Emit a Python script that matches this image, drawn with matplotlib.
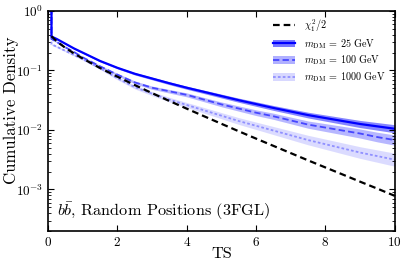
import numpy as np
import matplotlib
matplotlib.use("Agg")
import matplotlib.pyplot as plt
from matplotlib.patches import Patch
from matplotlib.lines import Line2D

plt.rcParams['font.family'] = 'serif'
plt.rcParams['font.serif'] = ['cmr10', 'DejaVu Serif']
plt.rcParams['mathtext.fontset'] = 'cm'
plt.rcParams['axes.formatter.use_mathtext'] = True

# TS grid (first two points show the initial drop from 1)
ts = [0.0, 0.1, 0.1, 0.25, 0.5, 0.75, 1.0, 1.5, 2.0, 2.5, 3.0, 3.5, 4.0, 4.5,
      5.0, 5.5, 6.0, 6.5, 7.0, 7.5, 8.0, 8.5, 9.0, 9.5, 10.0]

# log10 cumulative density
log_m25 = [0.0, 0.0, -0.43, -0.47, -0.55, -0.63, -0.70, -0.84, -0.955, -1.055, -1.135,
           -1.215, -1.29, -1.36, -1.43, -1.50, -1.565, -1.63, -1.69, -1.75, -1.80,
           -1.85, -1.90, -1.94, -1.98]
log_m100 = [0.0, 0.0, -0.47, -0.52, -0.61, -0.69, -0.78, -0.93, -1.07, -1.20, -1.29,
            -1.35, -1.41, -1.49, -1.57, -1.64, -1.71, -1.77, -1.84, -1.91, -1.96,
            -2.01, -2.06, -2.12, -2.17]
log_m1000 = [0.0, 0.0, -0.56, -0.60, -0.67, -0.74, -0.81, -0.96, -1.13, -1.28, -1.39,
             -1.49, -1.58, -1.67, -1.76, -1.85, -1.93, -2.01, -2.09, -2.17, -2.24,
             -2.31, -2.38, -2.44, -2.50]

# band half-widths (dex)
err_m25 = [0.0, 0.0, 0.01, 0.01, 0.01, 0.012, 0.013, 0.015, 0.017, 0.02, 0.022, 0.024,
           0.026, 0.029, 0.032, 0.035, 0.038, 0.041, 0.044, 0.048, 0.052, 0.056,
           0.06, 0.064, 0.068]
err_m100 = [0.0, 0.0, 0.012, 0.012, 0.013, 0.014, 0.015, 0.018, 0.021, 0.024, 0.027,
            0.03, 0.033, 0.036, 0.04, 0.044, 0.048, 0.052, 0.056, 0.061, 0.066,
            0.071, 0.076, 0.081, 0.086]
err_m1000 = [0.0, 0.0, 0.013, 0.014, 0.015, 0.016, 0.018, 0.022, 0.026, 0.03, 0.034,
             0.038, 0.042, 0.047, 0.052, 0.057, 0.062, 0.068, 0.074, 0.08, 0.086,
             0.092, 0.098, 0.104, 0.11]

# chi^2_1 / 2 reference curve values
ts_chi = [0.1, 0.25, 0.5, 0.75, 1.0, 1.5, 2.0, 2.5, 3.0, 3.5, 4.0, 4.5, 5.0, 5.5,
          6.0, 6.5, 7.0, 7.5, 8.0, 8.5, 9.0, 9.5, 10.0]
chi_half = [0.376, 0.309, 0.240, 0.193, 0.159, 0.110, 0.0787, 0.0569, 0.0416, 0.0307,
            0.0228, 0.0170, 0.0127, 0.0095, 0.00715, 0.0054, 0.00408, 0.00308,
            0.00234, 0.00178, 0.00135, 0.00103, 0.00078]

labels = [r'$m_{\rm DM}$ = 25 GeV', r'$m_{\rm DM}$ = 100 GeV', r'$m_{\rm DM}$ = 1000 GeV']
leg_labels = [r'$\chi^2_1/2$'] + labels
annot = r'$b\bar{b}$, Random Positions (3FGL)'

fig = plt.figure(figsize=(4.07, 2.68), dpi=100)
ax = fig.add_axes([0.118, 0.138, 0.852, 0.821])
renderer = fig.canvas.get_renderer()


def fit_size(text, target, base=10.0):
    t = fig.text(0, 0, text, fontsize=base)
    bb = t.get_window_extent(renderer)
    t.remove()
    return base * target / bb.width


series = [
    (log_m25, err_m25, '-', '#0000ff', '#7878ff', 1.6),
    (log_m100, err_m100, (0, (3.5, 1.8)), '#4646ff', '#b0b0ff', 1.3),
    (log_m1000, err_m1000, (0, (1.5, 1.2)), '#9090ff', '#d8d8ff', 1.3),
]
t = np.array(ts)
for (lv, ev, ls, lc, fc, lw) in series[::-1]:
    lv = np.array(lv); ev = np.array(ev)
    ax.fill_between(t, 10 ** (lv - ev), 10 ** (lv + ev), color=fc, lw=0, alpha=0.9)
for (lv, ev, ls, lc, fc, lw) in series[::-1]:
    ax.plot(t, 10 ** np.array(lv), ls=ls, color=lc, lw=lw)

ax.plot(ts_chi, chi_half, ls=(0, (3, 1.8)), color='black', lw=1.6)

# font sizes fitted to the reference's text extents (pixels)
fs_ylab = fit_size('Cumulative Density', 147)
fs_ann = fit_size(annot, 214)
fs_leg = fit_size(labels[2], 81)

leg_handles = [Line2D([], [], ls=(0, (3, 1.8)), color='black', lw=1.6)]
for (lv, ev, ls, lc, fc, lw) in series:
    leg_handles.append((Patch(facecolor=fc, edgecolor='none'),
                        Line2D([], [], ls=ls, color=lc, lw=lw)))
px_per_pt = 100 / 72.0
ax.legend(leg_handles, leg_labels, loc='upper left', frameon=False, fontsize=fs_leg,
          handlelength=22 / px_per_pt / fs_leg, handletextpad=9 / px_per_pt / fs_leg,
          borderpad=0, borderaxespad=0, labelspacing=0.3, handleheight=0.8,
          bbox_to_anchor=((273 - 48) / 347.0, (231 - 17) / 220.0))

ax.set_yscale('log')
ax.set_xlim(0, 10)
ax.set_ylim(2e-4, 1)
ax.set_xticks([0, 2, 4, 6, 8, 10])
ax.set_xlabel('TS', fontsize=fs_ann, va='center')
ax.xaxis.set_label_coords(0.5, (231 - 254) / 220.0)
ax.set_ylabel('Cumulative Density', fontsize=fs_ylab, va='center')
ax.yaxis.set_label_coords((11 - 48) / 347.0, (231 - 110) / 220.0)
ax.tick_params(which='both', direction='in', top=True, right=True, labelsize=9.5)
ax.tick_params(which='major', length=4)
ax.tick_params(which='minor', length=2)
for s in ax.spines.values():
    s.set_linewidth(1.2)

ax.text((57 - 48) / 347.0, (231 - 216) / 220.0, annot, transform=ax.transAxes,
        fontsize=fs_ann, va='baseline')

fig.savefig('out.png', dpi=100)
